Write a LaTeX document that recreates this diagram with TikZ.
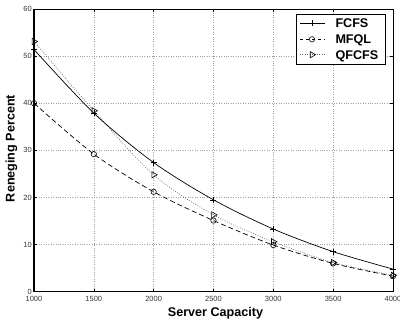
\documentclass[tikz,border=0pt]{standalone}
\usepackage{fontspec}
\setmainfont{Liberation Sans}
\usetikzlibrary{plotmarks}
\tikzset{
  gridline/.style={gray!75, line width=0.5pt, dash pattern=on 0.8pt off 1.6pt},
  tickline/.style={black, line width=0.5pt},
  ticklab/.style={font=\fontsize{7.5}{8}\selectfont, text=black!80, inner sep=0pt},
  axlab/.style={font=\fontsize{12.6}{13}\selectfont\bfseries, inner sep=0pt},
  leglab/.style={font=\fontsize{12.6}{13}\selectfont\bfseries, inner sep=0pt, anchor=base west},
  fcfs/.style={black, line width=0.7pt, mark=+, mark size=3pt, mark options={solid, line width=0.6pt}},
  mfql/.style={black, line width=0.7pt, dash pattern=on 5pt off 3pt, mark=o, mark size=2.7pt, mark options={solid, line width=0.6pt}},
  qfcfs/.style={gray!80!black, line width=0.7pt, dash pattern=on 0.8pt off 1.6pt, mark=triangle, mark size=3.6pt, mark options={solid, black, line width=0.6pt, rotate=-90}},
}
\begin{document}
\begin{tikzpicture}[x=1pt,y=1pt]
\useasboundingbox (0,0) rectangle (400,322);
\begin{scope}[shift={(-85.667,30.3)}, x=0.119667pt, y=4.712pt]
  % grid
  \foreach \xv in {1500,2000,2500,3000,3500}
    \draw[gridline] (\xv,0) -- (\xv,60);
  \foreach \yv in {10,20,30,40,50}
    \draw[gridline] (1000,\yv) -- (4000,\yv);
  % ticks
  \foreach \xv in {1500,2000,2500,3000,3500} {
    \draw[tickline] (\xv,0) -- ++(0,3pt);
    \draw[tickline] (\xv,60) -- ++(0,-3pt);
  }
  \foreach \yv in {10,20,30,40,50} {
    \draw[tickline] (1000,\yv) -- ++(3pt,0);
    \draw[tickline] (4000,\yv) -- ++(-3pt,0);
  }
  % tick labels
  \foreach \xv in {1000,1500,2000,2500,3000,3500,4000}
    \node[ticklab, anchor=north] (xl\xv) at ([yshift=-4.5pt]\xv,0) {\xv};
  \foreach \yv in {0,10,20,30,40,50,60}
    \node[ticklab, anchor=east] (yl\yv) at ([xshift=-2pt]1000,\yv) {\yv};
  % curves
  \draw[qfcfs] plot[smooth, tension=0.5] coordinates {(1000,53.1) (1500,38.4) (2000,24.8) (2500,16.3) (3000,10.6) (3500,6.2) (4000,3.5)};
  \draw[mfql] plot[smooth, tension=0.5] coordinates {(1000,40) (1500,29.2) (2000,21.2) (2500,15.1) (3000,9.9) (3500,6.0) (4000,3.3)};
  \draw[fcfs] plot[smooth, tension=0.5] coordinates {(1000,51.4) (1500,37.9) (2000,27.4) (2500,19.5) (3000,13.3) (3500,8.5) (4000,4.8)};
  % axes box
  \draw[line width=0.8pt] (1000,60) -- (4000,60) -- (4000,0);
  \draw[line width=1.4pt] (1000,60) -- (1000,0) -- (4000,0);
\end{scope}
% axis labels
\node[axlab, anchor=base] (xlabel) at (215.5,5.3) {Server Capacity};
\node[axlab, rotate=90] (ylabel) at (11.5,173.5) {Reneging Percent};
% legend
\draw[fill=white, line width=0.8pt] (296,307.8) rectangle (385.3,257.7);
\draw[fcfs] (300,298.7) -- (324.7,298.7);
\draw[fcfs] plot coordinates {(312,298.7)};
\draw[mfql, dash pattern=on 3pt off 3pt] (300,282.7) -- (324.7,282.7);
\draw[mfql] plot coordinates {(312,282.7)};
\draw[qfcfs] (300,267.3) -- (324.7,267.3);
\draw[qfcfs] plot coordinates {(312,267.3)};
\node[leglab] (lf) at (335.3,294.1) {FCFS};
\node[leglab] (lm) at (335.3,278.1) {MFQL};
\node[leglab] (lq) at (335.3,262.7) {QFCFS};
\end{tikzpicture}
\end{document}
